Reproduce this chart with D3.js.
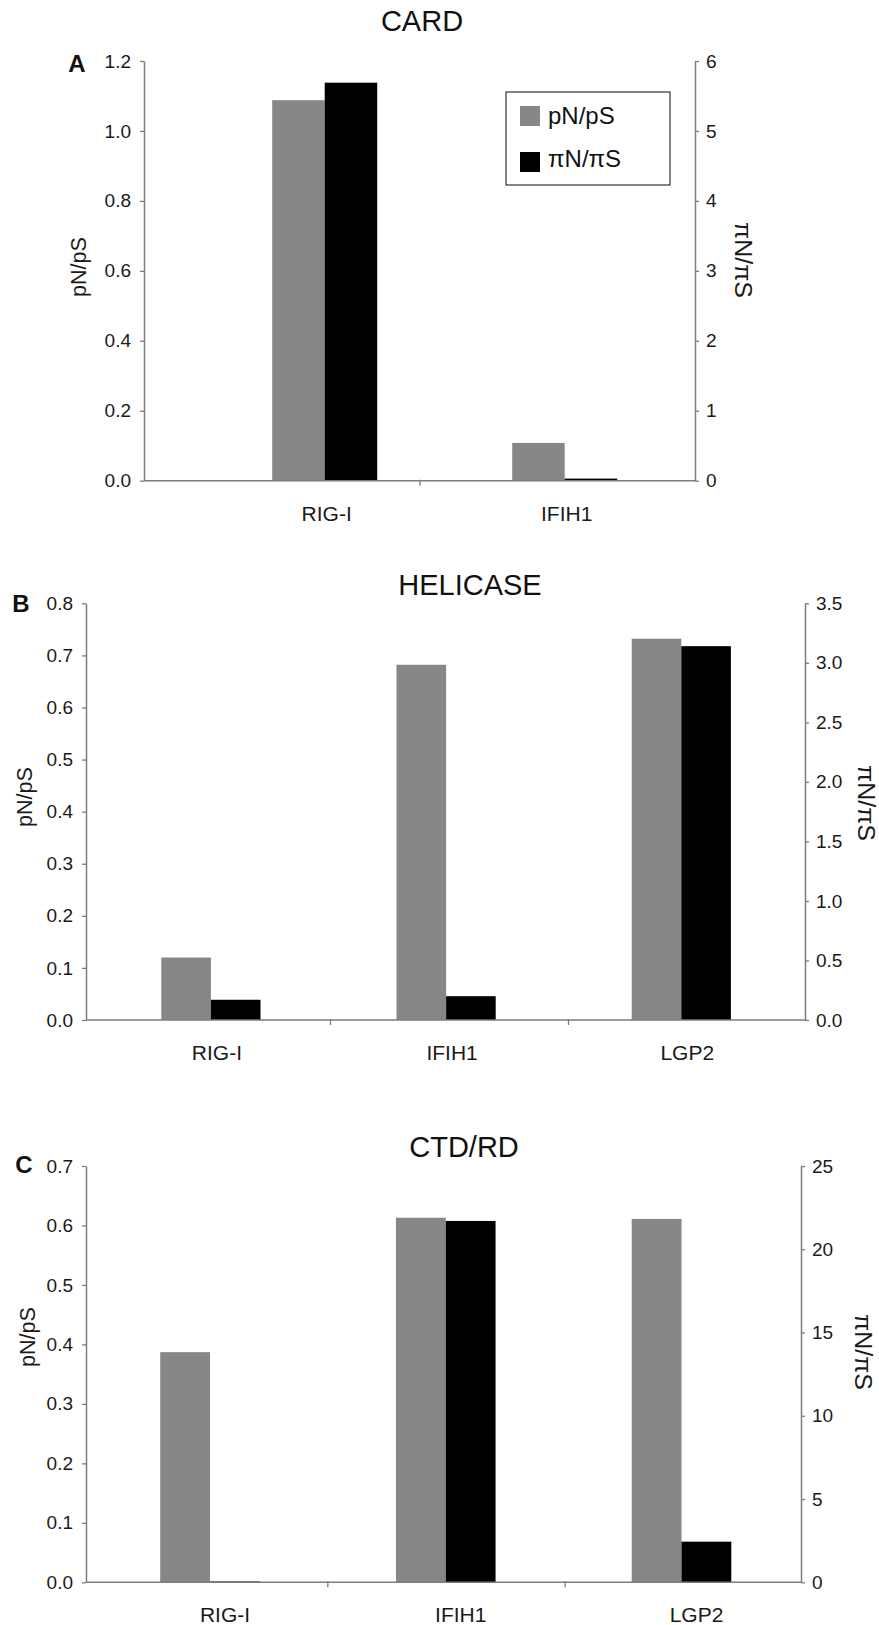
<!DOCTYPE html>
<html>
<head>
<meta charset="utf-8">
<script src="https://cdn.jsdelivr.net/npm/d3@7"></script>
<style>
  html, body { margin: 0; padding: 0; background: #fff; }
  svg { display: block; font-family: "Liberation Sans", Arial, Helvetica, sans-serif; }
</style>
</head>
<body>
<svg id="chart" width="879" height="1625"></svg>
<script>
// ---- data ----
const cardGenes = ["RIG-I", "IFIH1"];
const cardPnPs = [1.088, 0.108];
const cardPiNPiS = [5.69, 0.03];

const helicaseGenes = ["RIG-I", "IFIH1", "LGP2"];
const helicasePnPs = [0.120, 0.682, 0.732];
const helicasePiNPiS = [0.17, 0.20, 3.14];

const ctdGenes = ["RIG-I", "IFIH1", "LGP2"];
const ctdPnPs = [0.387, 0.613, 0.611];
const ctdPiNPiS = [0.05, 21.7, 2.44];

const cardLeftTicks = [0, 0.2, 0.4, 0.6, 0.8, 1.0, 1.2];
const cardRightTicks = [0, 1, 2, 3, 4, 5, 6];
const helicaseLeftTicks = [0, 0.1, 0.2, 0.3, 0.4, 0.5, 0.6, 0.7, 0.8];
const helicaseRightTicks = [0, 0.5, 1.0, 1.5, 2.0, 2.5, 3.0, 3.5];
const ctdLeftTicks = [0, 0.1, 0.2, 0.3, 0.4, 0.5, 0.6, 0.7];
const ctdRightTicks = [0, 5, 10, 15, 20, 25];

const seriesNames = ["pN/pS", "\u03C0N/\u03C0S"];
const seriesColors = ["#878787", "#000000"];

// ---- panel layouts ----
const panels = [
  {
    letter: "A", title: "CARD",
    genes: cardGenes, left: cardPnPs, right: cardPiNPiS,
    leftTicks: cardLeftTicks, rightTicks: cardRightTicks,
    leftFmt: d3.format(".1f"), rightFmt: d3.format("d"),
    xLeft: 144, xRight: 695, yTop: 61, yBase: 480.7,
    groupRange: [324.7, 564.7], barW: 52.5, dividerRange: [144, 695],
    labelShift: 2,
    titlePos: [422, 31], letterPos: [77, 72],
    leftTitlePos: [78, 267], rightTitlePos: [743, 260],
    legend: true
  },
  {
    letter: "B", title: "HELICASE",
    genes: helicaseGenes, left: helicasePnPs, right: helicasePiNPiS,
    leftTicks: helicaseLeftTicks, rightTicks: helicaseRightTicks,
    leftFmt: d3.format(".1f"), rightFmt: d3.format(".1f"),
    xLeft: 86, xRight: 805, yTop: 603.3, yBase: 1020,
    groupRange: [210.9, 681.3], barW: 49.6, dividerRange: [92, 806],
    labelShift: 6,
    titlePos: [470, 595], letterPos: [21, 612],
    leftTitlePos: [24, 797], rightTitlePos: [866, 803],
    legend: false
  },
  {
    letter: "C", title: "CTD/RD",
    genes: ctdGenes, left: ctdPnPs, right: ctdPiNPiS,
    leftTicks: ctdLeftTicks, rightTicks: ctdRightTicks,
    leftFmt: d3.format(".1f"), rightFmt: d3.format("d"),
    xLeft: 86, xRight: 801, yTop: 1166, yBase: 1582.3,
    groupRange: [210, 681.5], barW: 49.8, dividerRange: [90, 802],
    labelShift: 15,
    titlePos: [464, 1157], letterPos: [24, 1173],
    leftTitlePos: [27, 1337], rightTitlePos: [863, 1352],
    legend: false
  }
];

const svg = d3.select("#chart");
const axisColor = "#7d7d7d";

panels.forEach(p => {
  const g = svg.append("g");
  const leftMax = p.leftTicks[p.leftTicks.length - 1];
  const rightMax = p.rightTicks[p.rightTicks.length - 1];

  const yL = d3.scaleLinear().domain([0, leftMax]).range([p.yBase, p.yTop]);
  const yR = d3.scaleLinear().domain([0, rightMax]).range([p.yBase, p.yTop]);
  const xG = d3.scalePoint().domain(p.genes).range(p.groupRange);

  // bars: pN/pS on the left axis, piN/piS on the right axis
  const rows = p.genes.map((gene, i) => ({ gene, l: p.left[i], r: p.right[i] }));
  g.selectAll("rect.pn").data(rows).join("rect")
    .attr("class", "pn")
    .attr("x", d => xG(d.gene) - p.barW)
    .attr("width", p.barW)
    .attr("y", d => yL(d.l))
    .attr("height", d => yL(0) - yL(d.l))
    .attr("fill", seriesColors[0]);
  g.selectAll("rect.pi").data(rows).join("rect")
    .attr("class", "pi")
    .attr("x", d => xG(d.gene))
    .attr("width", p.barW)
    .attr("y", d => yR(d.r))
    .attr("height", d => yR(0) - yR(d.r))
    .attr("fill", seriesColors[1]);

  // baseline and category dividers
  g.append("line")
    .attr("x1", p.xLeft).attr("x2", p.xRight)
    .attr("y1", p.yBase).attr("y2", p.yBase)
    .attr("stroke", axisColor).attr("stroke-width", 1.5);
  const div = d3.scaleLinear().domain([0, p.genes.length]).range(p.dividerRange);
  const xAxis = g.append("g")
    .attr("transform", `translate(0,${p.yBase})`)
    .call(d3.axisBottom(div).tickValues(d3.range(1, p.genes.length)).tickFormat("").tickSize(5));
  xAxis.select(".domain").remove();
  xAxis.selectAll(".tick line").attr("stroke", axisColor).attr("stroke-width", 1.3).attr("y1", -1);

  // left axis
  const la = g.append("g")
    .attr("transform", `translate(${p.xLeft},0)`)
    .call(d3.axisLeft(yL).tickValues(p.leftTicks).tickFormat(p.leftFmt).tickSize(4).tickSizeOuter(0).tickPadding(9));
  // right axis
  const ra = g.append("g")
    .attr("transform", `translate(${p.xRight},0)`)
    .call(d3.axisRight(yR).tickValues(p.rightTicks).tickFormat(p.rightFmt).tickSize(4).tickSizeOuter(0).tickPadding(7));
  [la, ra].forEach(a => {
    a.select(".domain").attr("stroke", axisColor).attr("stroke-width", 1.5);
    a.selectAll(".tick line").attr("stroke", axisColor).attr("stroke-width", 1.3);
    a.selectAll(".tick text").attr("fill", "#1a1a1a").style("font-size", "19px")
      .style("font-family", "'Liberation Sans', Arial, sans-serif");
  });

  // category labels
  g.selectAll("text.cat").data(p.genes).join("text")
    .attr("class", "cat")
    .attr("x", d => xG(d) + p.labelShift)
    .attr("y", p.yBase + 40)
    .attr("text-anchor", "middle")
    .style("font-size", "21px").attr("fill", "#1a1a1a")
    .text(d => d);

  // panel title and letter
  g.append("text")
    .attr("x", p.titlePos[0]).attr("y", p.titlePos[1])
    .attr("text-anchor", "middle")
    .style("font-size", "29px").attr("fill", "#111")
    .text(p.title);
  g.append("text")
    .attr("x", p.letterPos[0]).attr("y", p.letterPos[1])
    .attr("text-anchor", "middle")
    .style("font-size", "24px").style("font-weight", "bold").attr("fill", "#111")
    .text(p.letter);

  // axis titles
  g.append("text")
    .attr("transform", `translate(${p.leftTitlePos[0]},${p.leftTitlePos[1]}) rotate(-90)`)
    .attr("text-anchor", "middle").attr("dominant-baseline", "central")
    .attr("textLength", 60).attr("lengthAdjust", "spacingAndGlyphs")
    .style("font-size", "22px").attr("fill", "#1a1a1a")
    .text(seriesNames[0]);
  g.append("text")
    .attr("transform", `translate(${p.rightTitlePos[0]},${p.rightTitlePos[1]}) rotate(90)`)
    .attr("text-anchor", "middle").attr("dominant-baseline", "central")
    .attr("textLength", 76).attr("lengthAdjust", "spacingAndGlyphs")
    .style("font-size", "23px").attr("fill", "#1a1a1a")
    .text(seriesNames[1]);

  // legend
  if (p.legend) {
    const lg = g.append("g").attr("transform", "translate(506,92)");
    lg.append("rect")
      .attr("width", 164).attr("height", 93)
      .attr("fill", "#fff").attr("stroke", "#333").attr("stroke-width", 1.2);
    seriesNames.forEach((name, i) => {
      lg.append("rect")
        .attr("x", 14).attr("y", 14 + i * 46)
        .attr("width", 20).attr("height", 20)
        .attr("fill", seriesColors[i]);
      lg.append("text")
        .attr("x", 42).attr("y", 32 + i * 43)
        .style("font-size", "24px").attr("fill", "#111")
        .text(name);
    });
  }
});
</script>
</body>
</html>
